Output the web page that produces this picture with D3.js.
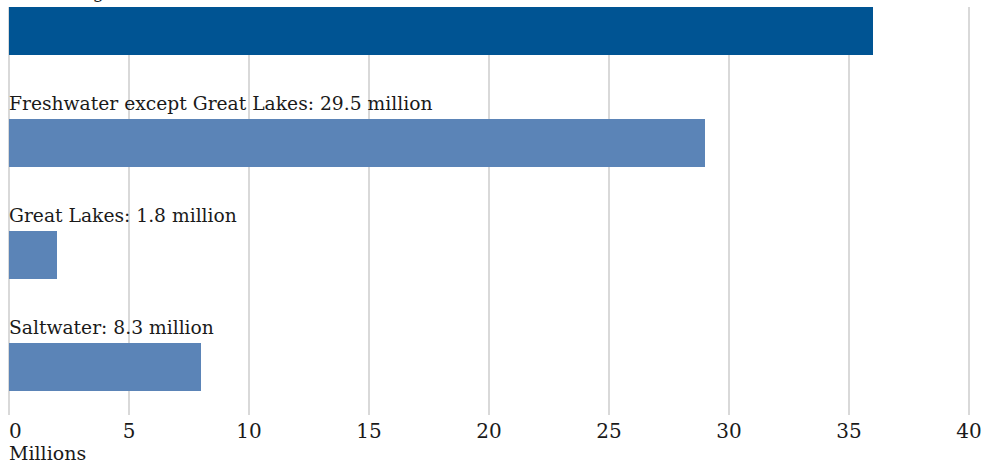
<!DOCTYPE html>
<html>
<head>
<meta charset="utf-8">
<script src="https://cdn.jsdelivr.net/npm/d3@7"></script>
<style>
  body { margin: 0; background: #fff; }
  text { font-family: "DejaVu Serif", serif; fill: #1a1a1a; }
</style>
</head>
<body>
<script>
// data
var categories = ["All fishing", "Freshwater except Great Lakes", "Great Lakes", "Saltwater"];
var barValues = [36, 29, 2, 8];
var labels = ["All fishing: 35.8 million", "Freshwater except Great Lakes: 29.5 million",
              "Great Lakes: 1.8 million", "Saltwater: 8.3 million"];
var colors = ["#005493", "#5b84b7", "#5b84b7", "#5b84b7"];
var tickValues = [0, 5, 10, 15, 20, 25, 30, 35, 40];

var width = 995, height = 468;

var svg = d3.select("body").append("svg")
    .attr("width", width)
    .attr("height", height);

var x = d3.scaleLinear().domain([0, 40]).range([9, 969]);

// each row: label on top, bar below
var y = d3.scaleBand().domain(categories).range([-57, 391]);
var barH = 48;

// grid
svg.append("g").selectAll("line")
    .data(tickValues)
    .enter().append("line")
    .attr("x1", function(d) { return x(d); })
    .attr("x2", function(d) { return x(d); })
    .attr("y1", 7)
    .attr("y2", 415)
    .attr("stroke", "#cccccc")
    .attr("stroke-width", 1.5);

var row = svg.selectAll(".row")
    .data(categories)
    .enter().append("g")
    .attr("class", "row")
    .attr("transform", function(d) { return "translate(0," + y(d) + ")"; });

row.append("rect")
    .attr("x", x(0))
    .attr("y", y.bandwidth() - barH)
    .attr("width", function(d, i) { return x(barValues[i]) - x(0); })
    .attr("height", barH)
    .attr("fill", function(d, i) { return colors[i]; });

row.append("text")
    .attr("x", x(0))
    .attr("y", y.bandwidth() - barH - 9)
    .attr("font-size", 18.7)
    .text(function(d, i) { return labels[i]; });

// axis labels
svg.append("g").selectAll("text")
    .data(tickValues)
    .enter().append("text")
    .attr("x", function(d) { return x(d); })
    .attr("y", 438)
    .attr("font-size", 20)
    .style("text-anchor", function(d) { return d === 0 ? "start" : "middle"; })
    .text(function(d) { return d; });

svg.append("text")
    .attr("x", 9)
    .attr("y", 460)
    .attr("font-size", 19)
    .text("Millions");
</script>
</body>
</html>
